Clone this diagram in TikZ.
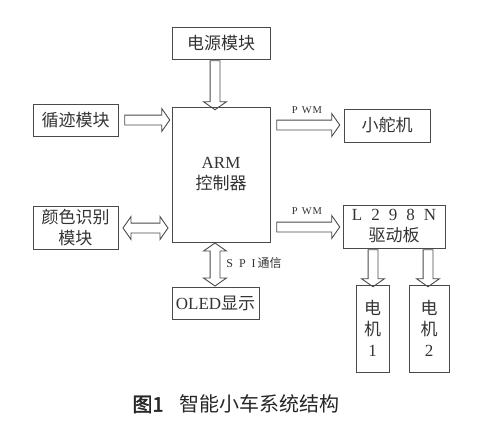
\documentclass[tikz,border=0pt]{standalone}
\usepackage{fontspec}
\setmainfont{Liberation Serif}
\newfontfamily\cjk{Noto Sans CJK SC}
\newfontfamily\cjkbold[FakeBold=2]{Noto Sans CJK SC}
\usetikzlibrary{shapes.arrows}
\definecolor{linegray}{HTML}{4A4A4A}
\definecolor{textgray}{HTML}{333333}

\begin{document}
\begin{tikzpicture}[x=1pt,y=-1pt,
  box/.style={draw=linegray,line width=0.9pt,inner sep=0pt,text=textgray,align=center,
    font=\fontsize{17}{21}\selectfont},
  fatarrow/.style={single arrow,draw=linegray,line width=0.9pt,inner xsep=0pt,inner ysep=4.5pt,
    single arrow head extend=6.5pt,single arrow tip angle=110,minimum height=#1},
  fatboth/.style={double arrow,draw=linegray,line width=0.9pt,inner xsep=0pt,inner ysep=4.5pt,
    double arrow head extend=6.5pt,double arrow tip angle=110,minimum height=#1},
  tag/.style={text=textgray,inner sep=0pt}]
  \useasboundingbox (0,0) rectangle (500,424);
  % blocks
  \node[box,minimum width=98,minimum height=32] (power) at (221,43) {{\cjk 电源模块}};
  \node[box,minimum width=98,minimum height=135] (arm) at (221,174.5) {ARM\\{\cjk 控制器}};
  \node[box,minimum width=85,minimum height=32] (track) at (75.5,120) {{\cjk 循迹模块}};
  \node[box,minimum width=85,minimum height=43] (color) at (75.5,227.5) {{\cjk 颜色识别}\\{\cjk 模块}};
  \node[box,minimum width=86,minimum height=33] (servo) at (387,125.5) {{\cjk 小舵机}};
  \node[box,minimum width=102,minimum height=43] (driver) at (394,226.5)
    {L\hspace{9pt}2\hspace{9pt}9\hspace{9pt}8\hspace{9pt}N\\{\cjk 驱动板}};
  \node[box,minimum width=87,minimum height=32] (oled) at (215.5,303) {OLED{\cjk 显示}};
  \node[box,minimum width=33,minimum height=87] (motorA) at (372.5,328.5) {{\cjk 电}\\{\cjk 机}\\1};
  \node[box,minimum width=40,minimum height=87] (motorB) at (429,328.5) {{\cjk 电}\\{\cjk 机}\\2};
  % hollow arrows
  \node[fatarrow=49,rotate=-90] (pwrarrow) at (215,83.5) {};
  \node[fatarrow=45] (trackarrow) at (145.5,120) {};
  \node[fatboth=45] (colorarrow) at (145.5,228) {};
  \node[fatarrow=63] (servoarrow) at (306.5,125) {};
  \node[fatarrow=63] (driverarrow) at (306.5,227) {};
  \node[fatboth=43,rotate=90] (oledarrow) at (215,264.5) {};
  \node[fatarrow=37,rotate=-90] (motorAarrow) at (373,266.5) {};
  \node[fatarrow=37,rotate=-90] (motorBarrow) at (428,266.5) {};
  % labels
  \node[tag,font=\fontsize{10.5}{12}\selectfont] (pwmA) at (307,110) {P\hspace{4pt}W\hspace{1pt}M};
  \node[tag,font=\fontsize{10.5}{12}\selectfont] (pwmB) at (307,211) {P\hspace{4pt}W\hspace{1pt}M};
  \node[tag,font=\fontsize{12}{14}\selectfont] (spi) at (254,263) {S\hspace{6pt}P\hspace{6pt}I\hspace{2pt}{\cjk 通信}};
  \node[tag,text=black!85,font=\fontsize{20}{23}\selectfont] (caption) at (236,404)
    {{\cjkbold 图1}\hspace{16pt}{\cjk 智能小车系统结构}};
\end{tikzpicture}
\end{document}
